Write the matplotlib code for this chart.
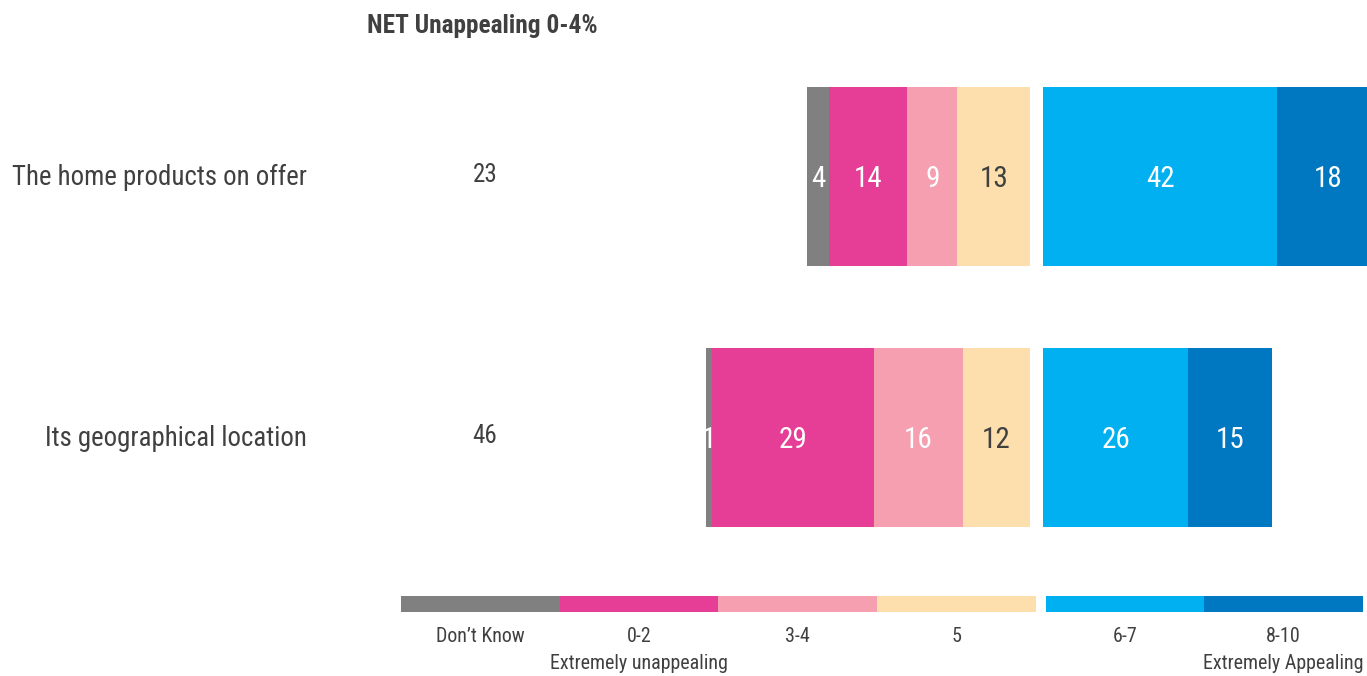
import matplotlib.pyplot as plt
import matplotlib.transforms as mtrans

plt.rcParams['font.family'] = ['Roboto Condensed', 'Roboto', 'DejaVu Sans']

# data
items = ['The home products on offer', 'Its geographical location']
net_unappealing = [23, 46]
dont_know = [4, 1]
score_0_2 = [14, 29]
score_3_4 = [9, 16]
score_5 = [13, 12]
score_6_7 = [42, 26]
score_8_10 = [18, 15]

legend_labels = ["Don\u2019t Know", '0-2\nExtremely unappealing', '3-4', '5',
                 '6-7', '8-10\nExtremely Appealing']
colors = ['#808080', '#E63E96', '#F59FB0', '#FDDFAD', '#00B0F0', '#0078C1']
text_colors = ['white', 'white', 'white', '#404040', 'white', 'white']
txt = '#404040'

W, H = 1367, 676
fig = plt.figure(figsize=(W / 100, H / 100), dpi=100)

# main bars axes (pixel layout)
px_unit = 5.58
zero_px = 1030
gap = 13 / px_unit
ax_l, ax_r = 380, 1367
ax_t, ax_b = 57, 557
ax = fig.add_axes([ax_l / W, 1 - ax_b / H, (ax_r - ax_l) / W, (ax_b - ax_t) / H])
ax.set_xlim((ax_l - zero_px) / px_unit, (ax_r - zero_px) / px_unit)
ax.set_ylim(1 + (ax_b - 437.5) / 261, -(176.5 - ax_t) / 261)
ax.axis('off')

bar_h = 179 / 261
ypos = list(range(len(items)))
left_series = [score_5, score_3_4, score_0_2, dont_know]
left_idx = [3, 2, 1, 0]
for i, y in enumerate(ypos):
    # left side, stacked leftwards from zero
    edge = 0
    for s, ci in zip(left_series, left_idx):
        v = s[i]
        ax.barh(y, -v, left=edge, height=bar_h, color=colors[ci], linewidth=0)
        ax.text(edge - v / 2, y + 0.01, str(v), ha='center', va='center', fontsize=21,
                color=text_colors[ci])
        edge -= v
    # right side
    edge = gap
    for s, ci in zip([score_6_7, score_8_10], [4, 5]):
        v = s[i]
        ax.barh(y, v, left=edge, height=bar_h, color=colors[ci], linewidth=0)
        ax.text(edge + v / 2, y + 0.01, str(v), ha='center', va='center', fontsize=21,
                color=text_colors[ci])
        edge += v

tr = mtrans.blended_transform_factory(fig.transFigure, ax.transData)
for i, y in enumerate(ypos):
    ax.text(307 / W, y + 0.005, items[i], ha='right', va='center', fontsize=19.4,
            color=txt, transform=tr, clip_on=False)
    ax.text(485 / W, y - 0.005, str(net_unappealing[i]), ha='center', va='center',
            fontsize=18, color=txt, transform=tr, clip_on=False)

fig.text(367 / W, 1 - 26 / H, 'NET Unappealing 0-4%', ha='left', va='center',
         fontsize=18.3, fontweight='bold', color=txt)

# legend scale bar
lg_l, lg_r = 401, 1363
lg_gap = 10 / 158.3
lax = fig.add_axes([lg_l / W, 1 - 612 / H, (lg_r - lg_l) / W, 16 / H])
lax.set_xlim(0, 6 + lg_gap)
lax.set_ylim(0, 1)
lax.axis('off')
for k, lab in enumerate(legend_labels):
    x0 = k + (lg_gap if k >= 4 else 0)
    lax.barh(0.5, 1, left=x0, height=1, color=colors[k], linewidth=0)
    lax.text(x0 + 0.5, -0.95, lab, ha='center', va='top', fontsize=14.4,
             color=txt, linespacing=1.55, clip_on=False)

fig.savefig('out.png', dpi=100)
